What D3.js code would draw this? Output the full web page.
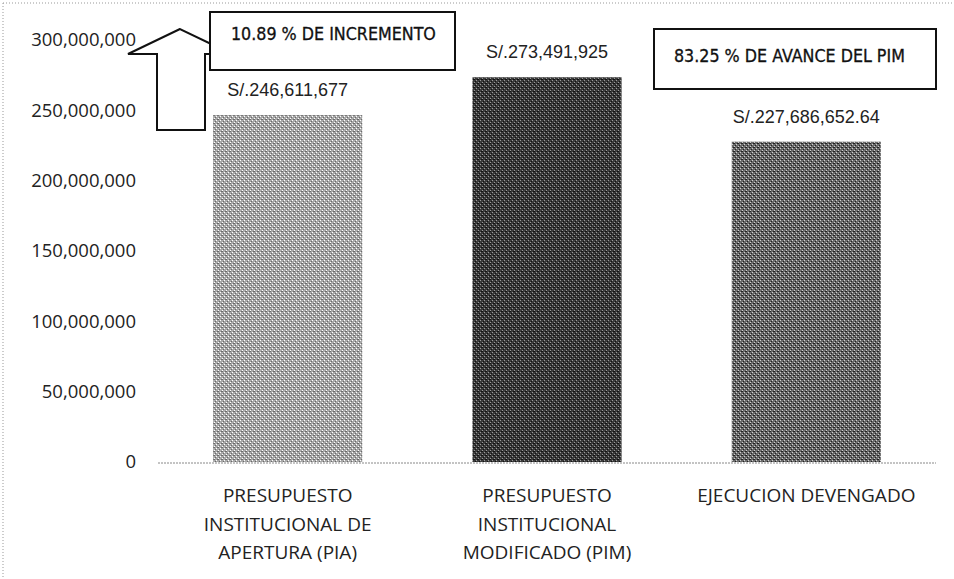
<!DOCTYPE html>
<html><head><meta charset="utf-8">
<script src="https://cdn.jsdelivr.net/npm/d3@7"></script>
<style>
body{margin:0;background:#fff;}
svg{display:block;}
</style></head>
<body>
<svg id="chart" width="954" height="579"></svg>
<script>
const categories = [
  ["PRESUPUESTO","INSTITUCIONAL DE","APERTURA (PIA)"],
  ["PRESUPUESTO","INSTITUCIONAL","MODIFICADO (PIM)"],
  ["EJECUCION DEVENGADO"]
];
const values = [246611677, 273491925, 227686652.64];
const valueLabels = ["S/.246,611,677","S/.273,491,925","S/.227,686,652.64"];
const yTicks = [0,50000000,100000000,150000000,200000000,250000000,300000000];
const note1 = "10.89 % DE INCREMENTO";
const note2 = "83.25 % DE AVANCE DEL PIM";

const svg = d3.select("#chart");
const W = 954, H = 579;

// scan-like dotted border
svg.append("line").attr("x1",3).attr("x2",W).attr("y1",3).attr("y2",3)
  .attr("stroke","#999").attr("stroke-width",1).attr("stroke-dasharray","1,2");
svg.append("line").attr("x1",3).attr("x2",3).attr("y1",3).attr("y2",H)
  .attr("stroke","#999").attr("stroke-width",1).attr("stroke-dasharray","1,2");

const defs = svg.append("defs");
function pat(id, a, b, c){
  const p = defs.append("pattern").attr("id",id).attr("width",4).attr("height",4)
    .attr("patternUnits","userSpaceOnUse");
  p.append("rect").attr("width",4).attr("height",4).attr("fill",a);
  p.append("rect").attr("x",0).attr("y",0).attr("width",1).attr("height",1).attr("fill",b);
  p.append("rect").attr("x",2).attr("y",2).attr("width",1).attr("height",1).attr("fill",b);
  p.append("rect").attr("x",1).attr("y",3).attr("width",2).attr("height",1).attr("fill",c);
  p.append("rect").attr("x",3).attr("y",1).attr("width",1).attr("height",1).attr("fill",c);
}
pat("p0","#a8a8a8","#ffffff","#6a6a6a");
pat("p1","#3a3a3a","#9a9a9a","#111111");
pat("p2","#6a6a6a","#d0d0d0","#222222");

const x = d3.scaleBand().domain(d3.range(values.length)).range([158,936])
  .paddingInner(0.425).paddingOuter(0.2125);
const y = d3.scaleLinear().domain([0,300000000]).range([462,40]);

// y tick labels
const yAxis = d3.axisLeft(y).tickValues(yTicks).tickFormat(d3.format(",")).tickSize(0).tickPadding(0);
const gy = svg.append("g").attr("transform","translate(136,0)").call(yAxis);
gy.select(".domain").remove();
gy.selectAll("text").attr("font-family","'Open Sans', sans-serif").attr("font-size","18.5px").attr("fill","#222");

// bars
svg.selectAll("rect.bar").data(values).join("rect").attr("class","bar")
  .attr("x",(d,i)=>x(i)).attr("width",x.bandwidth())
  .attr("y",d=>y(d)).attr("height",d=>y(0)-y(d))
  .attr("fill",(d,i)=>`url(#p${i})`);

// baseline
svg.append("line").attr("x1",158).attr("x2",936).attr("y1",y(0)+1).attr("y2",y(0)+1)
  .attr("stroke","#888").attr("stroke-width",1).attr("stroke-dasharray","2,1");

// value labels
svg.selectAll("text.val").data(values).join("text").attr("class","val")
  .attr("x",(d,i)=>x(i)+x.bandwidth()/2).attr("y",d=>y(d)-19)
  .attr("text-anchor","middle").attr("font-family","'Liberation Sans', Arial, sans-serif")
  .attr("font-size","18px").attr("fill","#222").text((d,i)=>valueLabels[i]);

// category labels
const xg = svg.append("g");
categories.forEach((lines,i)=>{
  const t = xg.append("text").attr("text-anchor","middle")
    .attr("font-family","'Open Sans', sans-serif").attr("font-size","19px").attr("fill","#222");
  lines.forEach((ln,j)=>{
    t.append("tspan").attr("x",x(i)+x.bandwidth()/2).attr("y",502+j*28.7).text(ln);
  });
});

// block arrow
const arrow = [[180,29],[128,54],[157,54],[157,130],[205,130],[205,54],[232,54]];
svg.append("path").attr("d",d3.line()(arrow)+"Z").attr("fill","#fff").attr("stroke","#111").attr("stroke-width",2);

// note boxes
function box(x0,y0,w,h,txt,tx,ty){
  svg.append("rect").attr("x",x0).attr("y",y0).attr("width",w).attr("height",h)
    .attr("fill","#fff").attr("stroke","#111").attr("stroke-width",2);
  svg.append("text").attr("x",tx).attr("y",ty)
    .attr("font-family","'DejaVu Sans Condensed','DejaVu Sans',sans-serif").attr("font-size","17.7px")
    .attr("fill","#111").attr("stroke","#111").attr("stroke-width",0.3).text(txt);
}
box(210,12,245,58,note1,231,40);
box(654,29,282,60,note2,674,62);
</script>
</body></html>
